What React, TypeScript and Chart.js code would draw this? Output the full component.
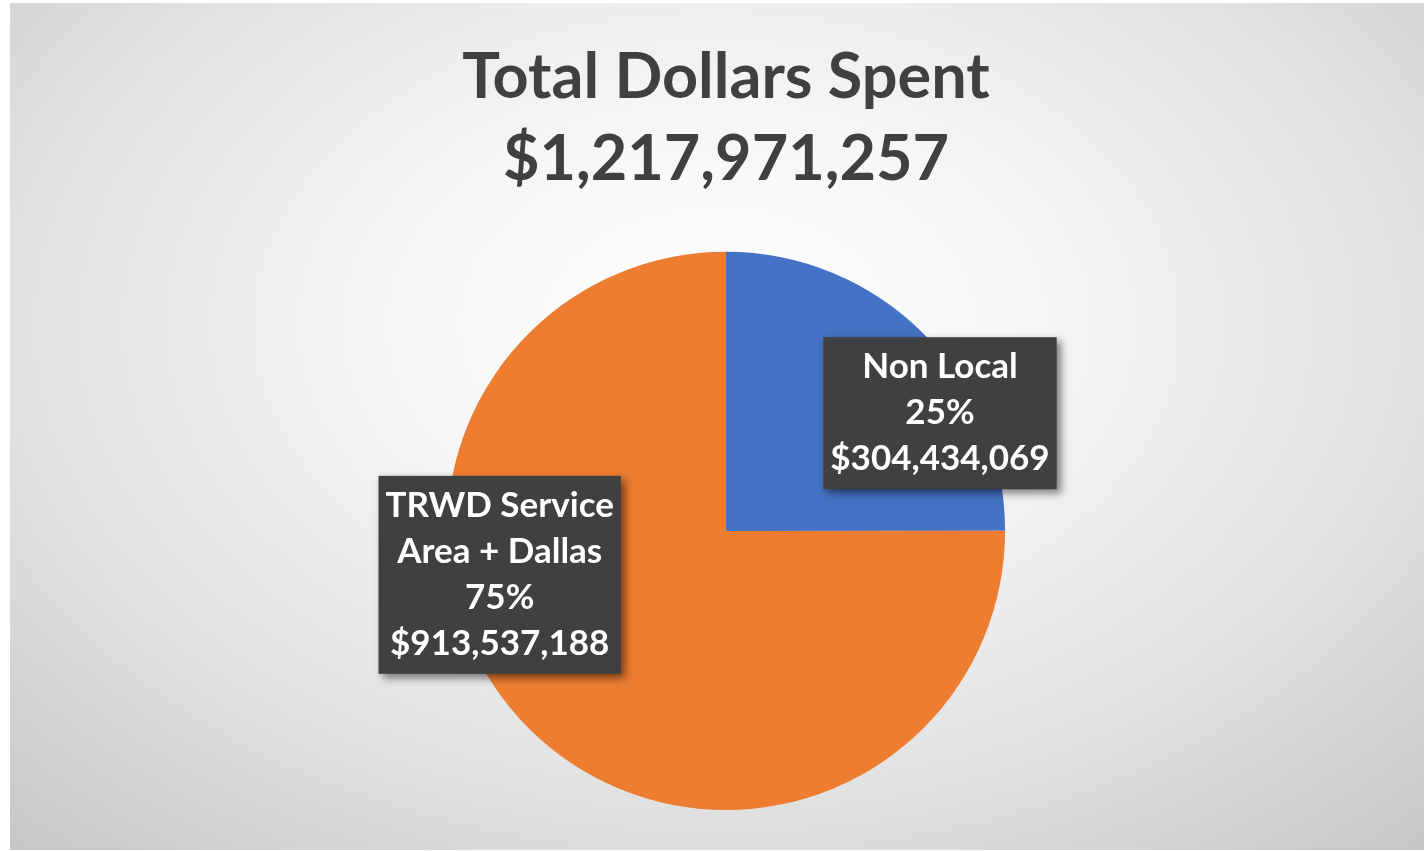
import React, { useEffect, useRef } from "react";
import { Chart, registerables } from "chart.js";

Chart.register(...registerables);

// ---- data ----
const categories: string[][] = [["Non Local"], ["TRWD Service", "Area + Dallas"]];
const values: number[] = [304434069, 913537188];
const sliceColors: string[] = ["#4472C4", "#ED7D31"];
const titleText = "Total Dollars Spent";

// label placement (fraction along slice angle, fraction of radius)
const labelAngleFrac: number[] = [0.68, 0.626];
const labelRadiusFrac: number[] = [0.875, 0.826];

const fmtMoney = (n: number) => "$" + n.toLocaleString("en-US");
const total = values.reduce((a, b) => a + b, 0);

const boxLabelPlugin = {
  id: "boxLabels",
  afterDatasetsDraw(chart: any) {
    const ctx = chart.ctx as CanvasRenderingContext2D;
    const meta = chart.getDatasetMeta(0);
    meta.data.forEach((arc: any, i: number) => {
      const { x, y, startAngle, endAngle, outerRadius } = arc.getProps(
        ["x", "y", "startAngle", "endAngle", "outerRadius"],
        true
      );
      const a = startAngle + (endAngle - startAngle) * labelAngleFrac[i];
      const r = outerRadius * labelRadiusFrac[i];
      const cx = x + Math.cos(a) * r;
      const cy = y + Math.sin(a) * r;
      const lines = [
        ...categories[i],
        Math.round((values[i] / total) * 100) + "%",
        fmtMoney(values[i]),
      ];
      ctx.save();
      ctx.font = "bold 35px Lato";
      const lh = 46;
      const padX = 7;
      const padY = 7;
      const w = Math.max(...lines.map((l) => ctx.measureText(l).width)) + padX * 2;
      const h = lines.length * lh + padY * 2;
      ctx.shadowColor = "rgba(0,0,0,0.5)";
      ctx.shadowBlur = 8;
      ctx.shadowOffsetX = 4;
      ctx.shadowOffsetY = 4;
      ctx.fillStyle = "#404040";
      ctx.fillRect(cx - w / 2, cy - h / 2, w, h);
      ctx.shadowColor = "transparent";
      ctx.shadowBlur = 0;
      ctx.shadowOffsetX = 0;
      ctx.shadowOffsetY = 0;
      ctx.fillStyle = "#ffffff";
      ctx.textAlign = "center";
      ctx.textBaseline = "middle";
      lines.forEach((l, k) => {
        ctx.fillText(l, cx, cy - h / 2 + padY + lh * (k + 0.5));
      });
      ctx.restore();
    });
  },
};

export default function App() {
  const canvasRef = useRef<HTMLCanvasElement | null>(null);

  useEffect(() => {
    if (!canvasRef.current) return;
    const chart = new Chart(canvasRef.current, {
      type: "pie",
      data: {
        labels: categories.map((c) => c.join(" ")),
        datasets: [
          {
            data: values,
            backgroundColor: sliceColors,
            borderWidth: 0,
          },
        ],
      },
      options: {
        animation: false,
        responsive: true,
        maintainAspectRatio: false,
        layout: { padding: { left: 18, right: 0, top: 0, bottom: 40 } },
        plugins: {
          legend: { display: false },
          tooltip: { enabled: false },
          title: {
            display: true,
            text: [titleText, fmtMoney(total)],
            color: "#404040",
            font: { family: "Lato", size: 63, weight: "bold", lineHeight: 1.3 },
            padding: { top: 34, bottom: 51 },
          },
        },
      },
      plugins: [boxLabelPlugin],
    });
    return () => chart.destroy();
  }, []);

  return (
    <div
      style={{
        position: "absolute",
        left: 10,
        top: 3,
        width: 1414,
        height: 847,
        background:
          "radial-gradient(ellipse 75% 85% at 50% 38%, #ffffff 0%, #f6f6f6 30%, #e2e2e2 65%, #c6c6c6 100%)",
      }}
    >
      <canvas ref={canvasRef} />
    </div>
  );
}
